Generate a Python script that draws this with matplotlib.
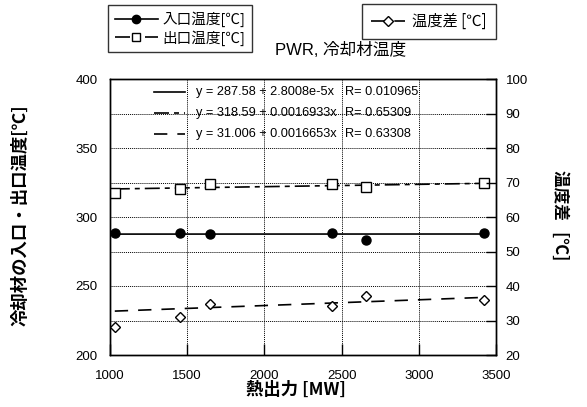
import matplotlib
matplotlib.use("Agg")
import matplotlib.pyplot as plt
from matplotlib.lines import Line2D
from matplotlib.ticker import MultipleLocator
import numpy as np

plt.rcParams['font.family'] = ['Liberation Sans', 'Noto Sans CJK JP']

# thermal output [MW] and coolant temperatures
power = [1031, 1456, 1650, 2440, 2660, 3423]
t_inlet = [288.6, 288.6, 287.5, 288.6, 283.3, 288.6]
t_outlet = [317.2, 320.3, 323.7, 323.7, 321.5, 324.9]
t_diff = [28.0, 31.1, 34.8, 34.1, 37.2, 35.9]

# linear fits: y = a + b*x, with correlation R
fit_inlet = (287.58, 2.8008e-5, 0.010965)
fit_outlet = (318.59, 0.0016933, 0.65309)
fit_diff = (31.006, 0.0016653, 0.63308)

x_ticks = [1000, 1500, 2000, 2500, 3000, 3500]

dashdot = (0, (9, 3, 3, 3))
dashed = (0, (8, 6))
CJK = ['Noto Sans CJK JP', 'DejaVu Sans']

fig = plt.figure(figsize=(5.87, 4.07), dpi=100)
ax = fig.add_axes([110 / 587, 1 - 355 / 407, 386 / 587, 276 / 407])
ax2 = ax.twinx()

ax.set_xlim(1000, 3500)
ax.set_ylim(200, 400)
ax2.set_ylim(20, 100)
ax.set_xticks(x_ticks)
ax.yaxis.set_major_locator(MultipleLocator(50))
ax.yaxis.set_minor_locator(MultipleLocator(25))
ax2.yaxis.set_major_locator(MultipleLocator(10))

ax.grid(True, which='both', color='black', linestyle=(0, (1, 1)), linewidth=0.7)
ax.tick_params(axis='x', direction='in', length=8, width=1, pad=11, labelsize=9.5)
ax.tick_params(axis='y', which='major', direction='in', length=0, pad=9, labelsize=9.5)
ax.tick_params(axis='y', which='minor', length=0)
ax2.tick_params(axis='y', direction='in', length=7, width=1, pad=7, labelsize=9.5)
for a in (ax, ax2):
    for s in a.spines.values():
        s.set_linewidth(1.0)

xs = np.array([min(power), max(power)])
a, b, r = fit_inlet
ax.plot(xs, a + b * xs, color='black', linewidth=1.2)
a, b, r = fit_outlet
ax.plot(xs, a + b * xs, color='black', linewidth=1.2, linestyle=dashdot)
a, b, r = fit_diff
ax2.plot(xs, a + b * xs, color='black', linewidth=1.2, linestyle=dashed)

ax.plot(power, t_inlet, 'o', color='black', markersize=6.5, zorder=5)
ax.plot(power, t_outlet, 's', markerfacecolor='white', markeredgecolor='black',
        markersize=6.5, markeredgewidth=1, zorder=5)
ax2.plot(power, t_diff, 'D', markerfacecolor='white', markeredgecolor='black',
         markersize=5, markeredgewidth=1, zorder=5)

# fit equations at the top of the plot
rows = [(fit_inlet, '-', 0.953), (fit_outlet, dashdot, 0.877), (fit_diff, dashed, 0.801)]
for (a, b, r), ls, yf in rows:
    ax.plot([0.114, 0.194], [yf, yf], transform=ax.transAxes, color='black',
            linewidth=1.2, linestyle=ls)
    coef = f'{b:.5g}'.replace('e-05', 'e-5')
    ax.text(0.222, yf, f'y = {a:.5g} + {coef}x', transform=ax.transAxes,
            fontsize=9.2, va='center', ha='left')
    ax.text(0.609, yf, f'R= {r:.5g}', transform=ax.transAxes,
            fontsize=9.2, va='center', ha='left')

fig.text(341 / 587, 1 - 50 / 407, 'PWR, 冷却材温度', fontsize=12,
         ha='center', va='center', family=['Liberation Sans', 'Noto Sans CJK JP'])
fig.text(20 / 587, 1 - 215 / 407, '冷却材の入口・出口温度[℃]', rotation=90,
         fontsize=12.5, fontweight='bold', ha='center', va='center', family=CJK)
fig.text(560 / 587, 1 - 215 / 407, '温度差   [℃]', rotation=270,
         fontsize=12, fontweight='bold', ha='center', va='center', family=CJK)
fig.text(296 / 587, 1 - 390 / 407, '熱出力 [MW]', fontsize=12.5,
         fontweight='bold', ha='center', va='center', family=CJK)

h_in = Line2D([], [], color='black', marker='o', markersize=6, linewidth=1.2)
h_out = Line2D([], [], color='black', marker='s', markerfacecolor='white',
               markersize=6, linewidth=1.2, linestyle=dashdot)
h_diff = Line2D([], [], color='black', marker='D', markerfacecolor='white',
                markersize=5, linewidth=1.2, linestyle=dashed)

leg1 = fig.legend([h_in, h_out], ['入口温度[℃]', '出口温度[℃]'],
                  loc='upper left', bbox_to_anchor=(108 / 587, 1 - 5 / 407),
                  frameon=True, fancybox=False, edgecolor='black',
                  handlelength=3.0, handletextpad=0.3,
                  labelspacing=0.2, borderpad=0.45, borderaxespad=0,
                  prop={'family': CJK, 'size': 10.5})
leg1.get_frame().set_linewidth(1)
leg2 = fig.legend([h_diff], ['温度差 [℃]'],
                  loc='upper left', bbox_to_anchor=(362 / 587, 1 - 4 / 407),
                  frameon=True, fancybox=False, edgecolor='black',
                  handlelength=2.2, handletextpad=0.5, borderpad=0.6,
                  borderaxespad=0,
                  prop={'family': CJK, 'size': 11})
leg2.get_frame().set_linewidth(1)

fig.savefig('out.png', dpi=100)
